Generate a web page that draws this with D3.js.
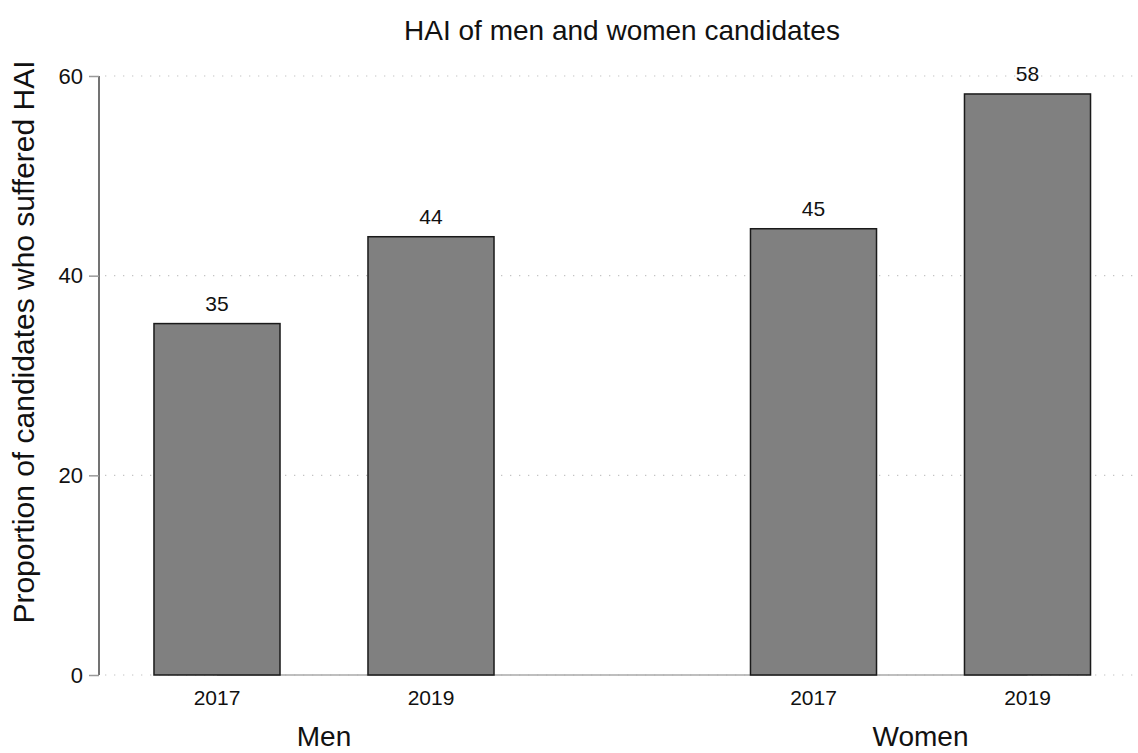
<!DOCTYPE html>
<html><head><meta charset="utf-8">
<script src="https://cdn.jsdelivr.net/npm/d3@7"></script>
<style>body{margin:0;background:#fff}svg{display:block;font-family:"Liberation Sans",Arial,sans-serif}</style>
</head><body><svg id="c" width="1138" height="753"></svg>
<script>
const groups = ["Men", "Women"];
const years = ["2017", "2019"];
const values = { Men: [35.2, 43.9], Women: [44.7, 58.2] };
const yTicks = [0, 20, 40, 60];
const title = "HAI of men and women candidates";
const yTitle = "Proportion of candidates who suffered HAI";

const svg = d3.select("#c");
const y = d3.scaleLinear().domain([0, 60]).range([675, 76]);
const x0 = d3.scaleBand().domain(groups).range([110, 1134.5]).paddingInner(0.2825).paddingOuter(0);
const x1 = d3.scaleBand().domain(years).range([0, x0.bandwidth()]).paddingInner(0.411).paddingOuter(0.2055);

const data = [];
groups.forEach(g => years.forEach((yr, i) => data.push({ g, yr, v: values[g][i] })));

// gridlines
svg.append("g").selectAll("line").data(yTicks).join("line")
  .attr("x1", 105).attr("x2", 1134).attr("y1", d => y(d)).attr("y2", d => y(d))
  .attr("stroke", "#c4c4c4").attr("stroke-width", 1.2).attr("stroke-dasharray", "1.3,7.7");

// y axis
const ya = svg.append("g").attr("transform", "translate(99,0)")
  .call(d3.axisLeft(y).tickValues(yTicks).tickSize(10).tickPadding(6));
ya.select(".domain").attr("stroke", "#444").attr("stroke-width", 1.5).attr("d", `M0,${y(60)}V${y(0)}`);
ya.selectAll(".tick line").attr("stroke", "#999").attr("stroke-width", 1.5);
ya.selectAll(".tick text").attr("font-size", 22).attr("fill", "#111").attr("font-family", "Liberation Sans, Arial, sans-serif");

// baseline from first to last bar center
const cx = d => x0(d.g) + x1(d.yr) + x1.bandwidth() / 2;
svg.append("line").attr("x1", cx(data[0])).attr("x2", cx(data[data.length - 1]))
  .attr("y1", y(0)).attr("y2", y(0)).attr("stroke", "#aaa").attr("stroke-width", 1.5);

// bars
svg.append("g").selectAll("rect").data(data).join("rect")
  .attr("x", d => x0(d.g) + x1(d.yr)).attr("width", x1.bandwidth())
  .attr("y", d => y(d.v)).attr("height", d => y(0) - y(d.v))
  .attr("fill", "#808080").attr("stroke", "#1a1a1a").attr("stroke-width", 1.5);

// value labels
svg.append("g").selectAll("text").data(data).join("text")
  .attr("x", cx).attr("y", d => y(d.v) - 13).attr("text-anchor", "middle")
  .attr("font-size", 21).attr("fill", "#111").text(d => Math.round(d.v));

// year labels
svg.append("g").selectAll("text").data(data).join("text")
  .attr("x", cx).attr("y", 705).attr("text-anchor", "middle")
  .attr("font-size", 21).attr("fill", "#111").text(d => d.yr);

// group labels
svg.append("g").selectAll("text").data(groups).join("text")
  .attr("x", g => x0(g) + x0.bandwidth() / 2).attr("y", 746).attr("text-anchor", "middle")
  .attr("font-size", 28).attr("fill", "#111").text(g => g);

// title
svg.append("text").attr("x", 622).attr("y", 40).attr("text-anchor", "middle")
  .attr("font-size", 28).attr("fill", "#111").text(title);

// y title
svg.append("text").attr("transform", "translate(34,342) rotate(-90)").attr("text-anchor", "middle")
  .attr("font-size", 30).attr("fill", "#111").text(yTitle);
</script></body></html>
